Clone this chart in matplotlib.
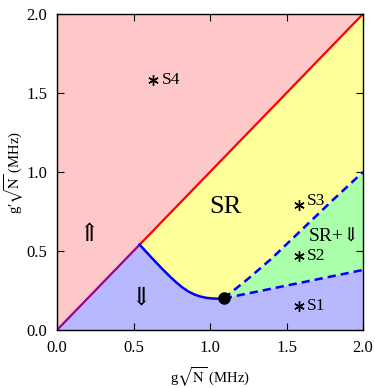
import numpy as np
import matplotlib
matplotlib.use("Agg")
import matplotlib.pyplot as plt

plt.rcParams['font.family'] = ['Liberation Serif', 'DejaVu Serif']
plt.rcParams['mathtext.fontset'] = 'stix'

# Phase boundary data (MHz)
peak = (0.54, 0.54)
curve_x = [0.54, 0.58, 0.62, 0.66, 0.70, 0.74, 0.78, 0.82, 0.86, 0.90,
           0.94, 0.98, 1.02, 1.06, 1.09]
curve_y = [0.54, 0.498, 0.456, 0.415, 0.375, 0.337, 0.301, 0.269, 0.243,
           0.224, 0.211, 0.203, 0.199, 0.198, 0.20]
upper_x = [1.09, 1.25, 1.40, 1.60, 1.80, 2.0]
upper_y = [0.20, 0.325, 0.45, 0.635, 0.82, 1.0]
lower_x = [1.09, 2.0]
lower_y = [0.20, 0.38]
critical = (1.09, 0.20)

# Sample points
samples = ["S1", "S2", "S3", "S4"]
sample_x = [1.58, 1.58, 1.58, 0.63]
sample_y = [0.15, 0.47, 0.79, 1.58]
label_dy = [0.0, 0.0, 0.025, 0.0]

ticks = [0.0, 0.5, 1.0, 1.5, 2.0]

c_pink = '#ffc8c8'
c_yellow = '#ffff99'
c_green = '#aaffaa'
c_lav = '#b8b8ff'

fig = plt.figure(figsize=(3.75, 3.88), dpi=100)
ax = fig.add_axes([0.152, 0.1495, 0.816, 0.8145])
ax.set_xlim(0, 2)
ax.set_ylim(0, 2)

# Regions
ax.fill([0, 2, 0], [0, 2, 2], color=c_pink, lw=0, zorder=0)
lav_x = [0] + curve_x + lower_x[1:] + [2.0]
lav_y = [0] + curve_y + lower_y[1:] + [0.0]
ax.fill(lav_x, lav_y, color=c_lav, lw=0, zorder=0)
yel_x = curve_x + upper_x[1:] + [2.0]
yel_y = curve_y + upper_y[1:] + [2.0]
ax.fill(yel_x, yel_y, color=c_yellow, lw=0, zorder=0)
grn_x = upper_x + lower_x[::-1]
grn_y = upper_y + lower_y[::-1]
ax.fill(grn_x, grn_y, color=c_green, lw=0, zorder=0)

# Boundaries
ax.plot([0, peak[0]], [0, peak[1]], color='#990099', lw=1.6, zorder=2)
ax.plot([peak[0], 2], [peak[1], 2], color='red', lw=1.6, zorder=2)
ax.plot(curve_x, curve_y, color='blue', lw=1.8, zorder=2,
        solid_joinstyle='round')
ax.plot(upper_x, upper_y, color='blue', lw=1.8, dashes=(3.3, 2.0), zorder=2)
ax.plot(lower_x, lower_y, color='blue', lw=1.8, dashes=(3.3, 2.0), zorder=2)
ax.plot([critical[0]], [critical[1]], 'o', color='black', ms=8, zorder=3)

# Samples
ax.plot(sample_x, sample_y, ls='none', marker=(6, 2, 0), color='black',
        ms=7.5, mew=1.0, zorder=3)
for name, sx, sy, dy in zip(samples, sample_x, sample_y, label_dy):
    ax.text(sx + 0.055, sy + dy, name, fontsize=12.5, va='center', ha='left')

# Region labels
ax.text(1.10, 0.78, "SR", fontsize=19, ha='center', va='center')
ax.text(1.815, 0.59, "SR+\u21d3", fontsize=14, ha='center', va='center')
ax.text(0.21, 0.60, "\u21d1", fontsize=18, ha='center', va='center')
ax.text(0.55, 0.20, "\u21d3", fontsize=18, ha='center', va='center')

ax.set_xticks(ticks)
ax.set_yticks(ticks)
ax.set_xticklabels([f"{t:.1f}" for t in ticks])
ax.set_yticklabels([f"{t:.1f}" for t in ticks])
ax.tick_params(direction='in', top=True, right=True, length=5, width=0.8,
               labelsize=12, pad=7)
for s in ax.spines.values():
    s.set_linewidth(1.0)

ax.set_xlabel(r"g$\sqrt{\mathrm{N}}$ (MHz)", fontsize=10.5, va='center')
ax.set_ylabel("g\u2032" + r"$\sqrt{\mathrm{N}}$ (MHz)", fontsize=10.5,
              va='center')
ax.xaxis.set_label_coords(0.5, -0.148)
ax.yaxis.set_label_coords(-0.14, 0.5)

fig.savefig("out.png", dpi=100)
